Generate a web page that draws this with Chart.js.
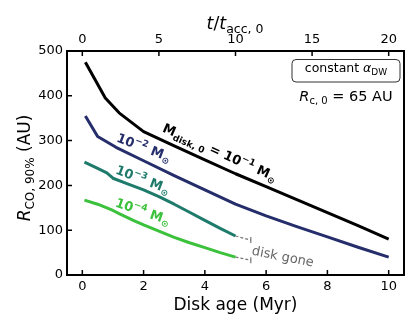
<!DOCTYPE html>
<html>
<head>
<meta charset="utf-8">
<script src="https://cdn.jsdelivr.net/npm/chart.js@4"></script>
<style>
  body { margin: 0; background: #fff; }
  canvas { display: block; }
</style>
</head>
<body>
<canvas id="chart" width="416" height="328"></canvas>
<script>
// disk age (Myr) and R_CO,90% (AU) for each initial disk mass
const age1 = [0.1, 0.4, 0.75, 1.2, 2, 3, 4, 5, 6, 7, 8, 9, 10];
const r1 = [475, 438, 395, 362, 320, 288, 257, 226, 197, 168, 139, 110, 80];

const age2 = [0.1, 0.5, 1.1, 2, 3, 4, 5, 6, 7, 8, 9, 10];
const r2 = [355, 309, 285, 255, 222, 190, 158, 132, 108, 85, 62, 40];

const age3 = [0.07, 0.5, 0.8, 1.0, 1.5, 2, 2.5, 3, 3.5, 4, 4.5, 5];
const r3 = [252, 238, 228, 216, 203, 190, 175, 158, 140, 122, 104, 87];

const age4 = [0.07, 0.5, 0.8, 1.0, 1.2, 1.7, 2, 2.5, 3, 3.5, 4, 4.5, 5];
const r4 = [167, 158, 150, 144, 137, 121, 112, 98, 84, 72, 61, 50, 40];

// "disk gone" dashed stubs
const goneAge = [5, 5.5];
const gone3 = [87, 78];
const gone4 = [40, 33];

const ageTicks = [0, 2, 4, 6, 8, 10];
const tTicks = [0, 5, 10, 15, 20];
const rTicks = [0, 100, 200, 300, 400, 500];

const FONT = '"DejaVu Sans"';
const NAVY = '#252e6b';
const TEAL = '#1e7b6c';
const GREEN = '#3bc13b';

function pts(xs, ys) {
    return xs.map((x, i) => ({ x: x, y: ys[i] }));
}

// draw text made of parts (for sub/superscripts), centered on (x, y)
function rich(ctx, parts, x, y, angle, color) {
    ctx.save();
    ctx.translate(x, y);
    ctx.rotate(angle * Math.PI / 180);
    ctx.fillStyle = color;
    ctx.textBaseline = 'alphabetic';
    ctx.textAlign = 'left';
    let w = 0;
    parts.forEach(p => {
        ctx.font = (p.s || '') + ' ' + p.size + 'px ' + FONT;
        p.w = ctx.measureText(p.t).width;
        w += p.w;
    });
    let cx = -w / 2;
    const base = parts[0].size * 0.36;
    parts.forEach(p => {
        ctx.font = (p.s || '') + ' ' + p.size + 'px ' + FONT;
        ctx.fillText(p.t, cx, base + (p.dy || 0));
        cx += p.w;
    });
    ctx.restore();
}

function massLabel(exp, size) {
    return [
        { t: '10', size: size, s: 'bold' },
        { t: '\u2212' + exp, size: size * 0.7, s: 'bold', dy: -size * 0.42 },
        { t: ' M', size: size, s: 'bold' },
        { t: '\u2299', size: size * 0.7, s: 'bold', dy: size * 0.25 }
    ];
}

const decor = {
    id: 'decor',
    afterDraw(chart) {
        const ctx = chart.ctx;
        const a = chart.chartArea;
        const sx = chart.scales.x, sx2 = chart.scales.x2, sy = chart.scales.y;
        ctx.save();

        // inward tick marks
        ctx.strokeStyle = '#000';
        ctx.lineWidth = 1.5;
        ctx.beginPath();
        ageTicks.forEach(v => {
            const px = sx.getPixelForValue(v);
            ctx.moveTo(px, a.bottom);
            ctx.lineTo(px, a.bottom - 5);
        });
        tTicks.forEach(v => {
            const px = sx2.getPixelForValue(v);
            ctx.moveTo(px, a.top);
            ctx.lineTo(px, a.top + 5);
        });
        rTicks.forEach(v => {
            const py = sy.getPixelForValue(v);
            ctx.moveTo(a.left, py);
            ctx.lineTo(a.left + 5, py);
        });
        ctx.stroke();

        // frame
        ctx.lineWidth = 2;
        ctx.strokeRect(a.left, a.top, a.right - a.left, a.bottom - a.top);

        // axis titles
        ctx.fillStyle = '#000';
        ctx.font = '17px ' + FONT;
        ctx.textAlign = 'center';
        ctx.textBaseline = 'alphabetic';
        ctx.fillText('Disk age (Myr)', 235.5, 310);

        rich(ctx, [
            { t: 't', size: 17.5, s: 'italic' },
            { t: '/', size: 17.5 },
            { t: 't', size: 17.5, s: 'italic' },
            { t: 'acc, 0', size: 12.5, dy: 4 }
        ], 235, 23, 0, '#000');

        rich(ctx, [
            { t: 'R', size: 17, s: 'italic' },
            { t: 'CO, 90%', size: 12, dy: 4 },
            { t: ' (AU)', size: 17 }
        ], 23.5, 168, -90, '#000');

        // annotation box
        ctx.beginPath();
        ctx.roundRect(292, 59.5, 108, 22.5, 4);
        ctx.fillStyle = '#fff';
        ctx.fill();
        ctx.strokeStyle = '#333';
        ctx.lineWidth = 1;
        ctx.stroke();
        rich(ctx, [
            { t: 'constant ', size: 12.5 },
            { t: '\u03b1', size: 12.5, s: 'italic' },
            { t: 'DW', size: 9, dy: 2.5 }
        ], 346, 67.5, 0, '#000');
        rich(ctx, [
            { t: 'R', size: 14.5, s: 'italic' },
            { t: 'c, 0', size: 10, dy: 3.5 },
            { t: ' = 65 AU', size: 14.5 }
        ], 346, 95.5, 0, '#000');

        // curve labels
        rich(ctx, [
            { t: 'M', size: 13, s: 'bold' },
            { t: 'disk, 0', size: 9, s: 'bold', dy: 3.5 },
            { t: ' = 10', size: 13, s: 'bold' },
            { t: '\u22121', size: 9, s: 'bold', dy: -5.5 },
            { t: ' M', size: 13, s: 'bold' },
            { t: '\u2299', size: 9, s: 'bold', dy: 3.5 }
        ], 220, 152, 24, '#000');
        rich(ctx, massLabel('2', 13), 144, 147, 21, NAVY);
        rich(ctx, massLabel('3', 13), 143, 179, 21, TEAL);
        rich(ctx, massLabel('4', 13), 143, 211, 19, GREEN);

        rich(ctx, [{ t: 'disk gone', size: 13 }], 283, 256, 11, '#666');

        ctx.restore();
    }
};

const tickFont = { family: 'DejaVu Sans', size: 13 };

const chart = new Chart(document.getElementById('chart'), {
    type: 'line',
    data: {
        datasets: [
            { data: pts(age1, r1), borderColor: '#000', borderWidth: 3 },
            { data: pts(age2, r2), borderColor: NAVY, borderWidth: 3 },
            { data: pts(age3, r3), borderColor: TEAL, borderWidth: 3 },
            { data: pts(age4, r4), borderColor: GREEN, borderWidth: 3 },
            {
                data: pts(goneAge, gone3), borderColor: '#777', borderWidth: 1.2, borderDash: [3, 2],
                pointRadius: [0, 3], pointStyle: 'line', rotation: 90, pointBorderColor: '#777', pointBorderWidth: 1.2
            },
            {
                data: pts(goneAge, gone4), borderColor: '#777', borderWidth: 1.2, borderDash: [3, 2],
                pointRadius: [0, 3], pointStyle: 'line', rotation: 90, pointBorderColor: '#777', pointBorderWidth: 1.2
            }
        ]
    },
    options: {
        responsive: false,
        animation: false,
        layout: { padding: { right: 12, left: 0, top: 0, bottom: 0 } },
        elements: {
            line: { tension: 0, borderCapStyle: 'butt', borderJoinStyle: 'round' },
            point: { radius: 0 }
        },
        plugins: { legend: { display: false }, tooltip: { enabled: false } },
        scales: {
            x: {
                type: 'linear', position: 'bottom', min: -0.5, max: 10.5,
                afterBuildTicks: s => { s.ticks = ageTicks.map(v => ({ value: v })); },
                ticks: { color: '#000', font: tickFont, padding: 4, maxRotation: 0 },
                grid: { display: false, drawTicks: false },
                border: { display: false },
                afterFit: s => { s.height = 53; }
            },
            x2: {
                type: 'linear', position: 'top', min: -1, max: 21,
                afterBuildTicks: s => { s.ticks = tTicks.map(v => ({ value: v })); },
                ticks: { color: '#000', font: tickFont, padding: 4, maxRotation: 0 },
                grid: { display: false, drawTicks: false },
                border: { display: false },
                afterFit: s => { s.height = 51; }
            },
            y: {
                type: 'linear', position: 'left', min: 0, max: 500,
                afterBuildTicks: s => { s.ticks = rTicks.map(v => ({ value: v })); },
                ticks: { color: '#000', font: tickFont, padding: 4 },
                grid: { display: false, drawTicks: false },
                border: { display: false },
                afterFit: s => { s.width = 67; }
            }
        }
    },
    plugins: [decor]
});
</script>
</body>
</html>
